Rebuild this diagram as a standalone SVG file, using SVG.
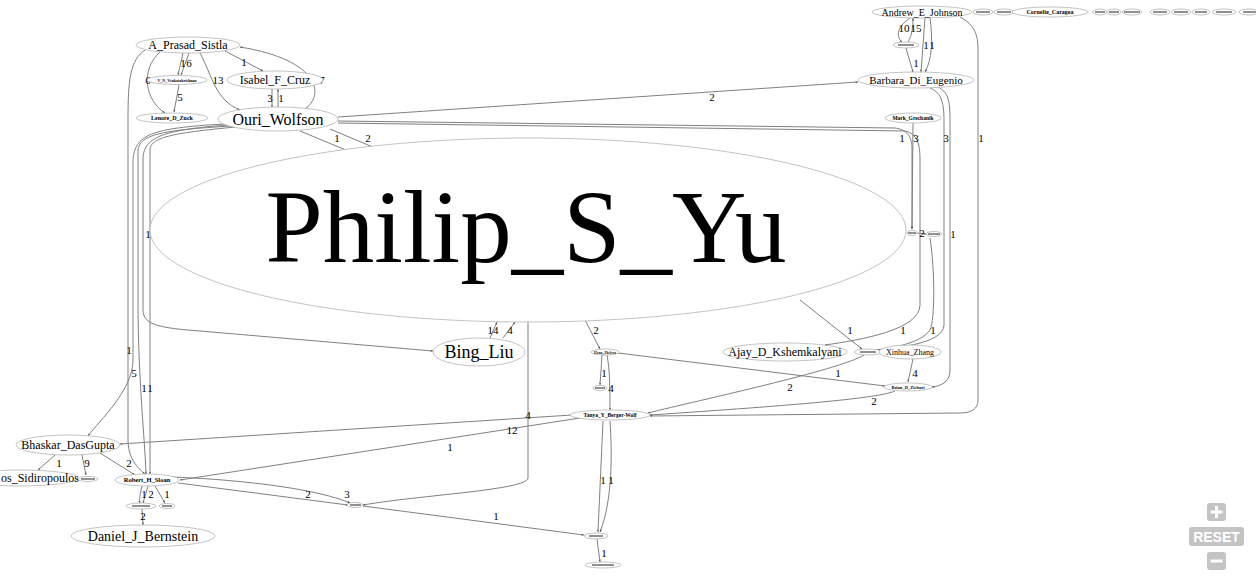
<svg xmlns="http://www.w3.org/2000/svg" width="1256" height="576" viewBox="0 0 1256 576">
<style>
.n{fill:#fff;stroke:#b4b4b4;stroke-width:0.8}
.t{font-family:"Liberation Serif",serif;fill:#000;text-anchor:middle}
.e path{fill:none;stroke:#808080;stroke-width:1;marker-end:url(#a)}
.l{font-family:"Liberation Serif",serif;font-size:11px;fill:#000;text-anchor:middle}
.d{stroke:#222;stroke-width:1}
.b{fill:#c4c4c4}
</style>
<defs><marker id="a" markerWidth="3" markerHeight="3" refX="2.5" refY="1.5" orient="auto" markerUnits="userSpaceOnUse"><path d="M0,0.5 L2.5,1.5 L0,2.5z" fill="#555"/></marker></defs>
<rect width="1256" height="576" fill="#fff"/>
<g class="e" id="connectors">
<path d="M183,53 L178,75"/><path d="M189,53 L181,75"/>
<path d="M225,51 L263,71"/>
<path d="M160,52 C140,70 145,100 165,113"/>
<path d="M179,85 L174,112"/>
<path d="M200,53 C212,75 215,100 240,110"/>
<path d="M305,109 C325,95 320,60 240,47"/>
<path d="M272,89 L272,107"/><path d="M278,107 L278,89"/>
<path d="M145,50 C130,60 128,80 128,120 L128,440 C128,460 140,470 145,474"/>
<path d="M338,117 L858,82"/>
<path d="M338,121 L895,128 C910,130 912,140 912,150 L912,229"/>
<path d="M338,123 L905,131 C918,134 920,145 920,160 L920,305 C920,330 860,340 825,345"/>
<path d="M913,123 L912,229"/>
<path d="M300,131 L358,155"/><path d="M330,129 L387,153"/>
<path d="M232,126 C160,130 140,135 138,150 L138,300 C138,380 145,440 146,474"/>
<path d="M236,127 C170,133 150,138 150,150 L150,474"/>
<path d="M228,125 C160,130 143,138 143,160 L143,310 C143,325 160,328 200,331 L433,351"/>
<path d="M225,124 C150,128 135,135 133,160 L133,360 C133,390 100,420 88,436"/>
<path d="M490,338 L497,322"/><path d="M503,338 L515,322"/>
<path d="M585,320 L600,349"/>
<path d="M602,355 L600,385"/>
<path d="M607,355 C610,370 610,395 610,410"/>
<path d="M618,353 L885,386"/>
<path d="M800,300 L862,349"/>
<path d="M864,355 C840,370 700,400 648,413"/>
<path d="M930,88 C940,92 944,100 944,120 L944,325 C944,345 890,348 876,350"/>
<path d="M930,238 C935,270 935,320 930,330 C920,345 885,348 878,351"/>
<path d="M938,87 C948,92 950,100 950,120 L950,370 C950,383 940,386 932,387"/>
<path d="M917,233 L926,234"/>
<path d="M910,18 C895,28 897,38 902,42"/><path d="M908,42 C912,35 913,28 913,18"/>
<path d="M925,18 L921,72"/><path d="M930,18 C933,40 932,60 925,72"/>
<path d="M906,48 L913,72"/>
<path d="M960,17 C975,25 978,35 978,50 L978,400 C978,410 970,413 960,413 L650,416"/>
<path d="M895,391 C880,398 800,405 650,415"/>
<path d="M913,359 L908,382"/>
<path d="M572,415 L120,444"/>
<path d="M580,418 L180,480"/>
<path d="M528,322 L528,478 C528,490 420,495 363,505"/>
<path d="M172,477 C250,480 320,490 350,503"/>
<path d="M178,483 L348,505"/>
<path d="M363,506 L584,535"/>
<path d="M603,421 L598,532"/><path d="M610,421 C612,450 613,500 600,532"/>
<path d="M597,539 L600,562"/>
<path d="M55,455 L38,470"/>
<path d="M82,455 L86,475"/>
<path d="M100,453 L135,475"/>
<path d="M142,486 C140,495 139,500 140,503"/>
<path d="M148,486 L143,503"/>
<path d="M155,486 L165,503"/>
<path d="M142,509 L143,525"/>
</g>
<g id="labels">
<text class="l" x="183" y="67">1</text><text class="l" x="189" y="67">6</text>
<text class="l" x="244" y="66">1</text>
<text class="l" x="148" y="84">6</text>
<text class="l" x="180" y="101">5</text>
<text class="l" x="218" y="84">13</text>
<text class="l" x="322" y="84">7</text>
<text class="l" x="270" y="102">3</text><text class="l" x="281" y="102">1</text>
<text class="l" x="129" y="354">1</text>
<text class="l" x="712" y="101">2</text>
<text class="l" x="902" y="142">1</text><text class="l" x="916" y="142">3</text>
<text class="l" x="946" y="142">3</text><text class="l" x="981" y="142">1</text>
<text class="l" x="337" y="142">1</text><text class="l" x="368" y="142">2</text>
<text class="l" x="148" y="238">1</text>
<text class="l" x="134" y="377">5</text>
<text class="l" x="144" y="392">1</text><text class="l" x="150" y="392">1</text>
<text class="l" x="493" y="334">14</text><text class="l" x="510" y="334">4</text>
<text class="l" x="596" y="334">2</text>
<text class="l" x="604" y="377">1</text><text class="l" x="611" y="392">4</text>
<text class="l" x="850" y="334">1</text><text class="l" x="903" y="334">1</text><text class="l" x="933" y="334">1</text>
<text class="l" x="922" y="237">2</text><text class="l" x="953" y="238">1</text>
<text class="l" x="838" y="377">1</text><text class="l" x="790" y="391">2</text>
<text class="l" x="915" y="377">4</text><text class="l" x="874" y="405">2</text>
<text class="l" x="904" y="32">10</text><text class="l" x="916" y="32">15</text>
<text class="l" x="926" y="49">1</text><text class="l" x="932" y="49">1</text>
<text class="l" x="916" y="67">1</text>
<text class="l" x="528" y="419">4</text>
<text class="l" x="512" y="434">12</text><text class="l" x="450" y="451">1</text>
<text class="l" x="308" y="498">2</text><text class="l" x="347" y="498">3</text>
<text class="l" x="496" y="520">1</text>
<text class="l" x="603" y="484">1</text><text class="l" x="611" y="484">1</text>
<text class="l" x="604" y="557">1</text>
<text class="l" x="59" y="467">1</text><text class="l" x="87" y="467">9</text><text class="l" x="129" y="467">2</text>
<text class="l" x="144" y="498">1</text><text class="l" x="151" y="498">2</text><text class="l" x="167" y="498">1</text>
<text class="l" x="143" y="520">2</text>
</g>
<g id="Philip_S_Yu"><ellipse class="n" cx="528" cy="230" rx="378" ry="92"/><text class="t" x="526" y="262" font-size="103">Philip_S_Yu</text></g>
<g id="A_Prasad_Sistla"><ellipse class="n" cx="188" cy="45" rx="52" ry="8"/><text class="t" x="188" y="49" font-size="12">A_Prasad_Sistla</text></g>
<g id="V_N_Venkatakrishnan"><ellipse class="n" cx="177" cy="80" rx="30" ry="4.5"/><text class="t" x="177" y="81.5" font-size="4" font-weight="bold">V_N_Venkatakrishnan</text></g>
<g id="Isabel_F_Cruz"><ellipse class="n" cx="275" cy="80" rx="48" ry="9"/><text class="t" x="275" y="84" font-size="12">Isabel_F_Cruz</text></g>
<g id="Lenore_D_Zuck"><ellipse class="n" cx="172" cy="118" rx="36" ry="5"/><text class="t" x="172" y="120" font-size="6" font-weight="bold">Lenore_D_Zuck</text></g>
<g id="Ouri_Wolfson"><ellipse class="n" cx="278" cy="119" rx="60" ry="12"/><text class="t" x="278" y="124.5" font-size="16">Ouri_Wolfson</text></g>
<g id="Bing_Liu"><ellipse class="n" cx="479" cy="352" rx="46" ry="14"/><text class="t" x="479" y="358" font-size="18">Bing_Liu</text></g>
<g id="Elena_Zheleva"><ellipse class="n" cx="605" cy="352" rx="14" ry="3"/><text class="t" x="605" y="353.5" font-size="3.5" font-weight="bold">Elena_Zheleva</text></g>
<g id="n600"><ellipse class="n" cx="600" cy="388" rx="7" ry="2.5"/><line class="d" x1="595" y1="388" x2="605" y2="388"/></g>
<g id="Tanya_Y_Berger-Wolf"><ellipse class="n" cx="610" cy="415" rx="40" ry="5"/><text class="t" x="610" y="417" font-size="5.5" font-weight="bold">Tanya_Y_Berger-Wolf</text></g>
<g id="Ajay_D_Kshemkalyani"><ellipse class="n" cx="785" cy="352" rx="62" ry="9"/><text class="t" x="785" y="356" font-size="12">Ajay_D_Kshemkalyani</text></g>
<g id="n868"><ellipse class="n" cx="868" cy="352" rx="14" ry="3"/><line class="d" x1="860" y1="352" x2="876" y2="352"/></g>
<g id="Xinhua_Zhang"><ellipse class="n" cx="910" cy="352" rx="31" ry="7"/><text class="t" x="910" y="355" font-size="8">Xinhua_Zhang</text></g>
<g id="Brian_D_Ziebart"><ellipse class="n" cx="908" cy="387" rx="24" ry="4"/><text class="t" x="908" y="388.5" font-size="4.5" font-weight="bold">Brian_D_Ziebart</text></g>
<g id="Mark_Grechanik"><ellipse class="n" cx="913" cy="118" rx="28" ry="5"/><text class="t" x="913" y="120" font-size="5.5" font-weight="bold">Mark_Grechanik</text></g>
<g id="n912"><ellipse class="n" cx="912" cy="233" rx="5" ry="2.5"/><line class="d" x1="908" y1="233" x2="916" y2="233"/></g>
<g id="n934"><ellipse class="n" cx="934" cy="234" rx="8" ry="2.5"/><line class="d" x1="928" y1="234" x2="940" y2="234"/></g>
<g id="Andrew_E_Johnson"><ellipse class="n" cx="922" cy="12" rx="50" ry="6"/><text class="t" x="922" y="15.5" font-size="10">Andrew_E_Johnson</text></g>
<g id="n906"><ellipse class="n" cx="906" cy="45" rx="13" ry="3"/><line class="d" x1="898" y1="45" x2="914" y2="45"/></g>
<g id="Barbara_Di_Eugenio"><ellipse class="n" cx="916" cy="80" rx="58" ry="8"/><text class="t" x="916" y="84" font-size="11">Barbara_Di_Eugenio</text></g>
<g id="t983"><ellipse class="n" cx="983" cy="12" rx="10" ry="3"/><line class="d" x1="976" y1="12" x2="990" y2="12"/></g>
<g id="t1003"><ellipse class="n" cx="1004" cy="12" rx="10" ry="3"/><line class="d" x1="997" y1="12" x2="1011" y2="12"/></g>
<g id="Cornelia_Caragea"><ellipse class="n" cx="1050" cy="12" rx="38" ry="5"/><text class="t" x="1050" y="14" font-size="6" font-weight="bold">Cornelia_Caragea</text></g>
<g id="t1100"><ellipse class="n" cx="1100" cy="12" rx="7" ry="3"/><line class="d" x1="1095" y1="12" x2="1105" y2="12"/></g>
<g id="t1114"><ellipse class="n" cx="1114" cy="12" rx="7" ry="3"/><line class="d" x1="1109" y1="12" x2="1119" y2="12"/></g>
<g id="t1132"><ellipse class="n" cx="1132" cy="12" rx="10" ry="3"/><line class="d" x1="1124" y1="12" x2="1140" y2="12"/></g>
<g id="t1160"><ellipse class="n" cx="1160" cy="12" rx="10" ry="3"/><line class="d" x1="1153" y1="12" x2="1167" y2="12"/></g>
<g id="t1181"><ellipse class="n" cx="1181" cy="12" rx="10" ry="3"/><line class="d" x1="1174" y1="12" x2="1188" y2="12"/></g>
<g id="t1201"><ellipse class="n" cx="1201" cy="12" rx="9" ry="3"/><line class="d" x1="1195" y1="12" x2="1207" y2="12"/></g>
<g id="t1224"><ellipse class="n" cx="1224" cy="12" rx="12" ry="3"/><line class="d" x1="1216" y1="12" x2="1232" y2="12"/></g>
<g id="t1248"><ellipse class="n" cx="1249" cy="12" rx="10" ry="3"/><line class="d" x1="1243" y1="12" x2="1256" y2="12"/></g>
<g id="Bhaskar_DasGupta"><ellipse class="n" cx="68" cy="445" rx="52" ry="10"/><text class="t" x="68" y="449" font-size="12">Bhaskar_DasGupta</text></g>
<g id="Sidiropoulos"><ellipse class="n" cx="20" cy="478" rx="58" ry="8"/><text class="t" x="1" y="482" font-size="12" style="text-anchor:start">os_Sidiropoulos</text></g>
<g id="n88"><ellipse class="n" cx="88" cy="479" rx="10" ry="2.5"/><line class="d" x1="81" y1="479" x2="95" y2="479"/></g>
<g id="Robert_H_Sloan"><ellipse class="n" cx="147" cy="480" rx="32" ry="6"/><text class="t" x="147" y="482.3" font-size="6.5" font-weight="bold">Robert_H_Sloan</text></g>
<g id="n141"><ellipse class="n" cx="141" cy="506" rx="15" ry="3"/><line class="d" x1="132" y1="506" x2="150" y2="506"/></g>
<g id="n167"><ellipse class="n" cx="167" cy="506" rx="8" ry="2.5"/><line class="d" x1="162" y1="506" x2="172" y2="506"/></g>
<g id="Daniel_J_Bernstein"><ellipse class="n" cx="143" cy="536" rx="72" ry="11"/><text class="t" x="143" y="541" font-size="14">Daniel_J_Bernstein</text></g>
<g id="n355"><ellipse class="n" cx="355" cy="505" rx="8" ry="2.5"/><line class="d" x1="350" y1="505" x2="361" y2="505"/></g>
<g id="n596"><ellipse class="n" cx="596" cy="536" rx="12" ry="3"/><line class="d" x1="589" y1="536" x2="603" y2="536"/></g>
<g id="n603"><ellipse class="n" cx="603" cy="565" rx="18" ry="3"/><line class="d" x1="592" y1="565" x2="614" y2="565"/></g>
<g id="zoom-controls">
<rect class="b" x="1207" y="503" width="19" height="18" rx="3"/>
<path d="M1216.5,506 V518 M1210.5,512 H1222.5" stroke="#fff" stroke-width="3"/>
<rect class="b" x="1189" y="527" width="55" height="19" rx="3"/>
<text x="1216.5" y="542" font-family="Liberation Sans,sans-serif" font-size="14" font-weight="bold" fill="#fff" text-anchor="middle">RESET</text>
<rect class="b" x="1207" y="552" width="19" height="18" rx="3"/>
<path d="M1210.5,561 H1222.5" stroke="#fff" stroke-width="3"/>
</g>
</svg>
